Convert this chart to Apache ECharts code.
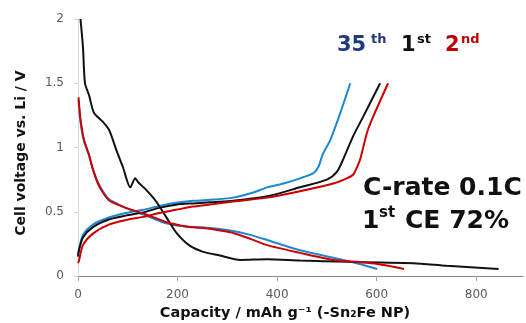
<!DOCTYPE html>
<html>
<head>
<meta charset="utf-8">
<script src="https://cdn.jsdelivr.net/npm/echarts@6/dist/echarts.min.js"></script>
<style>
  html, body { margin: 0; padding: 0; background: #fff; }
  #Chart1 { width: 526px; height: 323px; }
</style>
</head>
<body>
<div id="Chart1"></div>
<script>
// 充放電曲線 (Sn2Fe NP)  [capacity mAh/g, voltage V]
var xTicks = [0, 200, 400, 600, 800];

// 35th cycle
var blueDis = [[1,1.37],[5,1.20],[12,1.05],[22,0.94],[30,0.83],[40,0.73],[50,0.66],[62,0.60],[80,0.56],[96,0.53],[137,0.47],[177,0.41],[217,0.385],[245,0.38],[277,0.37],[312,0.35],[346,0.32],[380,0.28],[446,0.20],[533,0.125],[570,0.09],[601,0.055]];
var blueCh = [[0,0.16],[2,0.21],[10,0.32],[30,0.40],[62,0.455],[96,0.49],[131,0.515],[163,0.545],[197,0.57],[231,0.585],[273,0.595],[312,0.61],[352,0.65],[380,0.69],[413,0.72],[446,0.76],[473,0.80],[483,0.85],[492,0.95],[507,1.06],[527,1.27],[547,1.5]];

// 1st cycle
var blackDis = [[5,2.0],[10,1.78],[14,1.50],[22,1.41],[32,1.27],[50,1.20],[62,1.14],[70,1.06],[78,0.97],[90,0.85],[105,0.69],[115,0.76],[121,0.73],[137,0.67],[157,0.58],[177,0.46],[197,0.34],[223,0.24],[250,0.19],[285,0.16],[326,0.125],[380,0.13],[446,0.12],[541,0.11],[607,0.105],[674,0.10],[741,0.08],[845,0.055]];
var blackCh = [[0,0.15],[2,0.20],[10,0.30],[30,0.38],[62,0.44],[96,0.47],[131,0.495],[163,0.53],[197,0.555],[231,0.565],[273,0.575],[312,0.585],[380,0.62],[446,0.69],[500,0.75],[520,0.81],[533,0.91],[553,1.09],[573,1.24],[607,1.5]];

// 2nd cycle
var redDis = [[1,1.39],[5,1.22],[12,1.06],[22,0.945],[30,0.83],[40,0.72],[50,0.65],[62,0.59],[80,0.555],[96,0.53],[137,0.48],[177,0.42],[217,0.385],[245,0.375],[277,0.36],[312,0.335],[346,0.29],[380,0.24],[446,0.18],[513,0.125],[560,0.11],[607,0.09],[655,0.055]];
var redCh = [[0,0.10],[2,0.12],[10,0.24],[30,0.33],[62,0.40],[96,0.435],[131,0.46],[163,0.49],[197,0.515],[231,0.54],[273,0.56],[312,0.58],[380,0.61],[446,0.66],[513,0.72],[540,0.76],[553,0.79],[561,0.85],[567,0.91],[581,1.12],[593,1.24],[623,1.5]];

var FONT = "DejaVu Sans";

function curve(data, color) {
  return {
    type: "line",
    data: data,
    showSymbol: false,
    smooth: 0.25,
    lineStyle: { color: color, width: 2 },
    silent: true
  };
}

var Chart1 = echarts.init(document.getElementById("Chart1"));
option = {
  animation: false,
  grid: { left: 78, right: 3, top: 19, bottom: 47 },
  xAxis: [
    {
      type: "value",
      min: 0,
      max: 894,
      interval: 200,
      axisLine: { lineStyle: { color: "#a6a6a6" } },
      axisTick: { show: true, length: 5, customValues: xTicks, lineStyle: { color: "#a6a6a6" } },
      axisLabel: { customValues: xTicks, margin: 13, color: "#595959", fontSize: 12, fontFamily: FONT },
      splitLine: { show: false }
    },
    {
      type: "value",
      position: "top",
      min: 0,
      max: 894,
      axisLine: { show: true, lineStyle: { color: "#868686" } },
      axisTick: { show: false },
      axisLabel: { show: false },
      splitLine: { show: false }
    }
  ],
  yAxis: [
    {
      type: "value",
      min: 0,
      max: 2,
      interval: 0.5,
      axisLine: { show: true, lineStyle: { color: "#d0d0d0" } },
      axisTick: { show: true, length: 4, lineStyle: { color: "#d0d0d0" } },
      axisLabel: { margin: 14, color: "#595959", fontSize: 12, fontFamily: FONT },
      splitLine: { show: false }
    },
    {
      type: "value",
      position: "right",
      min: 0,
      max: 2,
      axisLine: { show: true, lineStyle: { color: "#d9d9d9" } },
      axisTick: { show: false },
      axisLabel: { show: false },
      splitLine: { show: false }
    }
  ],
  series: [
    curve(blueDis, "#1f86d3"),
    curve(blueCh, "#1f86d3"),
    curve(blackDis, "#111111"),
    curve(blackCh, "#111111"),
    curve(redDis, "#cc0000"),
    curve(redCh, "#cc0000")
  ],
  graphic: [
    { type: "text", x: 21, y: 153, rotation: Math.PI / 2,
      style: { text: "Cell voltage vs. Li / V", font: "bold 14px " + FONT, fill: "#111", align: "center", verticalAlign: "middle" } },
    { type: "text", x: 285, y: 313,
      style: { text: "Capacity / mAh g\u207B\u00B9 (-Sn\u2082Fe NP)", font: "bold 14.5px " + FONT, fill: "#111", align: "center", verticalAlign: "middle" } },
    // cycle labels
    { type: "text", x: 337, y: 46, style: { text: "35", font: "bold 21px " + FONT, fill: "#1f3a7a", verticalAlign: "middle" } },
    { type: "text", x: 371, y: 40, style: { text: "th", font: "bold 13px " + FONT, fill: "#1f3a7a", verticalAlign: "middle" } },
    { type: "text", x: 401, y: 46, style: { text: "1", font: "bold 21px " + FONT, fill: "#111", verticalAlign: "middle" } },
    { type: "text", x: 417, y: 40, style: { text: "st", font: "bold 13px " + FONT, fill: "#111", verticalAlign: "middle" } },
    { type: "text", x: 445, y: 46, style: { text: "2", font: "bold 21px " + FONT, fill: "#c00000", verticalAlign: "middle" } },
    { type: "text", x: 461, y: 40, style: { text: "nd", font: "bold 13px " + FONT, fill: "#c00000", verticalAlign: "middle" } },
    // conditions
    { type: "text", x: 363, y: 188, style: { text: "C-rate 0.1C", font: "bold 25px " + FONT, fill: "#111", verticalAlign: "middle" } },
    { type: "text", x: 362, y: 221, style: { text: "1", font: "bold 25px " + FONT, fill: "#111", verticalAlign: "middle" } },
    { type: "text", x: 379, y: 213, style: { text: "st", font: "bold 15px " + FONT, fill: "#111", verticalAlign: "middle" } },
    { type: "text", x: 405, y: 221, style: { text: "CE 72%", font: "bold 25px " + FONT, fill: "#111", verticalAlign: "middle" } }
  ]
};

Chart1.setOption(option);
</script>
</body>
</html>
